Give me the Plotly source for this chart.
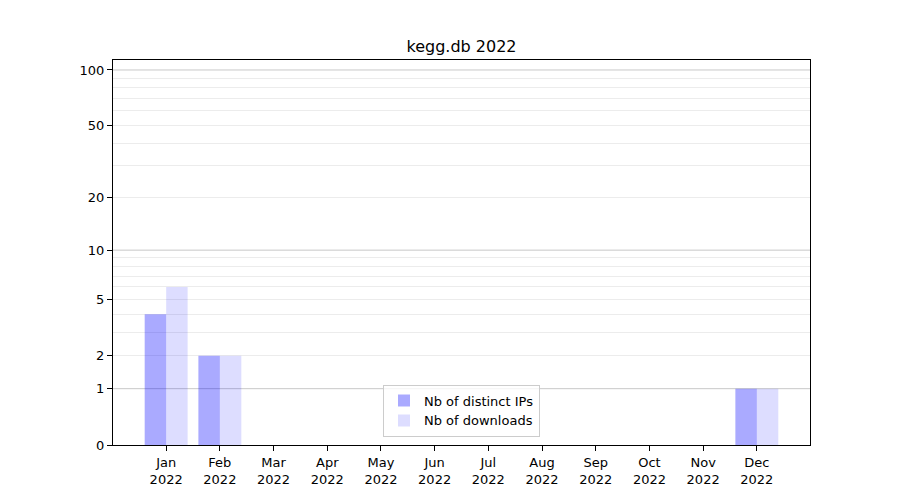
import numpy as np
import plotly.graph_objects as go

months = ["Jan", "Feb", "Mar", "Apr", "May", "Jun", "Jul", "Aug", "Sep", "Oct", "Nov", "Dec"]
year = "2022"
distinct_ips = [4, 2, 0, 0, 0, 0, 0, 0, 0, 0, 0, 1]
downloads = [6, 2, 0, 0, 0, 0, 0, 0, 0, 0, 0, 1]
ytick_values = [0, 1, 2, 5, 10, 20, 50, 100]
major_grid_values = [1, 10, 100]
minor_grid_values = [2, 3, 4, 5, 6, 7, 8, 9, 20, 30, 40, 50, 60, 70, 80, 90]
y_top = 113.2


def tr(v):
    return np.log10(np.asarray(v, dtype=float) + 1)


labels = [f"{m}<br>{year}" for m in months]

fig = go.Figure()
fig.add_trace(go.Bar(x=labels, y=tr(distinct_ips), width=0.4, offset=-0.4,
                     marker=dict(color="rgba(0,0,255,0.333)", line=dict(width=0)),
                     name="Nb of distinct IPs"))
fig.add_trace(go.Bar(x=labels, y=tr(downloads), width=0.4, offset=0.0,
                     marker=dict(color="rgba(0,0,255,0.133)", line=dict(width=0)),
                     name="Nb of downloads"))

for v in major_grid_values:
    fig.add_shape(type="line", xref="paper", x0=0, x1=1, yref="y",
                  y0=float(tr(v)), y1=float(tr(v)), layer="below",
                  line=dict(color="#c8c8c8", width=1))

fig.update_layout(
    width=892, height=492,
    margin=dict(l=105, r=90, t=52, b=55),
    paper_bgcolor="white", plot_bgcolor="white",
    font=dict(family="DejaVu Sans", size=13, color="black"),
    title=dict(text="kegg.db 2022", x=0.5084, xanchor="center", yref="container",
               y=0.922, yanchor="middle", font=dict(size=16)),
    barmode="overlay",
    showlegend=True,
    legend=dict(x=0.5, xanchor="center", y=0.022, yanchor="bottom",
                bgcolor="rgba(255,255,255,0.8)", bordercolor="#cccccc", borderwidth=1,
                font=dict(size=13), tracegroupgap=0),
    xaxis=dict(type="category", range=[-0.99, 11.99], showgrid=False,
               showline=True, linecolor="black", linewidth=1, mirror=True,
               ticks="outside", ticklen=5, tickcolor="black", zeroline=False),
    yaxis=dict(range=[0, float(tr(y_top))], tickmode="array",
               tickvals=list(tr(ytick_values)), ticktext=[str(v) for v in ytick_values],
               showgrid=False, showline=True, linecolor="black", linewidth=1, mirror=True,
               ticks="outside", ticklen=5, tickcolor="black", zeroline=False,
               minor=dict(tickmode="array", tickvals=list(tr(minor_grid_values)),
                          showgrid=True, gridcolor="#ececec", gridwidth=1, ticks="")),
)

fig.write_html("out.html")
